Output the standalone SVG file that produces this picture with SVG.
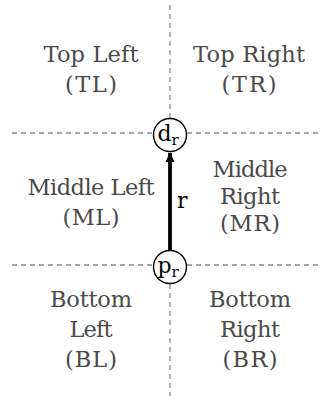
<svg xmlns="http://www.w3.org/2000/svg" width="320" height="396" viewBox="0 0 320 396">
<style>
.lbl{font-size:22.5px;fill:#4a4a4a;text-anchor:middle}
.grid{stroke:#8a8a8a;stroke-width:1.3;stroke-dasharray:5 4;fill:none}
.nd{fill:#fff;stroke:#000;stroke-width:1.4}
.nt{font-size:22px;fill:#000}
.sub{font-size:15px}
</style>
<defs>
<marker id="ah" viewBox="0 0 10 10" refX="9" refY="5" markerWidth="10" markerHeight="10" markerUnits="userSpaceOnUse" orient="auto">
<path d="M0,0.5 L10,5 L0,9.5 Z" fill="#000"/>
</marker>
</defs>
<g id="grid">
<line class="grid" x1="170" y1="5" x2="170" y2="119"/>
<line class="grid" x1="170" y1="284" x2="170" y2="396"/>
<line class="grid" x1="12" y1="133" x2="153" y2="133"/>
<line class="grid" x1="187" y1="133" x2="320" y2="133"/>
<line class="grid" x1="12" y1="265" x2="153" y2="265"/>
<line class="grid" x1="187" y1="265" x2="320" y2="265"/>
</g>
<g id="regions">
<g id="TL"><text class="lbl" font-family="DejaVu Serif, serif" x="91" y="62" textLength="95" lengthAdjust="spacing">Top Left</text><text class="lbl" font-family="DejaVu Serif, serif" x="91" y="92" textLength="52" lengthAdjust="spacing">(TL)</text></g>
<g id="TR"><text class="lbl" font-family="DejaVu Serif, serif" x="249" y="62" textLength="112" lengthAdjust="spacing">Top Right</text><text class="lbl" font-family="DejaVu Serif, serif" x="249" y="92" textLength="55" lengthAdjust="spacing">(TR)</text></g>
<g id="ML"><text class="lbl" font-family="DejaVu Serif, serif" x="91" y="195" textLength="127" lengthAdjust="spacing">Middle Left</text><text class="lbl" font-family="DejaVu Serif, serif" x="91" y="225" textLength="57" lengthAdjust="spacing">(ML)</text></g>
<g id="MR"><text class="lbl" font-family="DejaVu Serif, serif" x="250" y="177" textLength="75" lengthAdjust="spacing">Middle</text><text class="lbl" font-family="DejaVu Serif, serif" x="250" y="204" textLength="60" lengthAdjust="spacing">Right</text><text class="lbl" font-family="DejaVu Serif, serif" x="250" y="231" textLength="60" lengthAdjust="spacing">(MR)</text></g>
<g id="BL"><text class="lbl" font-family="DejaVu Serif, serif" x="91" y="307" textLength="82" lengthAdjust="spacing">Bottom</text><text class="lbl" font-family="DejaVu Serif, serif" x="91" y="337" textLength="43" lengthAdjust="spacing">Left</text><text class="lbl" font-family="DejaVu Serif, serif" x="91" y="367" textLength="52" lengthAdjust="spacing">(BL)</text></g>
<g id="BR"><text class="lbl" font-family="DejaVu Serif, serif" x="250" y="307" textLength="82" lengthAdjust="spacing">Bottom</text><text class="lbl" font-family="DejaVu Serif, serif" x="250" y="337" textLength="60" lengthAdjust="spacing">Right</text><text class="lbl" font-family="DejaVu Serif, serif" x="250" y="367" textLength="55" lengthAdjust="spacing">(BR)</text></g>
</g>
<g id="connectors">
<line x1="170" y1="250" x2="170" y2="153" stroke="#000" stroke-width="3.8" marker-end="url(#ah)"/>
<text class="nt" font-family="DejaVu Serif, serif" x="177" y="208">r</text>
</g>
<g id="dr">
<circle class="nd" cx="170" cy="135" r="16.5"/>
<text class="nt" font-family="DejaVu Serif, serif" x="157.5" y="141">d<tspan class="sub" dy="4">r</tspan></text>
</g>
<g id="pr">
<circle class="nd" cx="170" cy="267" r="16.5"/>
<text class="nt" font-family="DejaVu Serif, serif" x="157.5" y="273">p<tspan class="sub" dy="4">r</tspan></text>
</g>
</svg>
